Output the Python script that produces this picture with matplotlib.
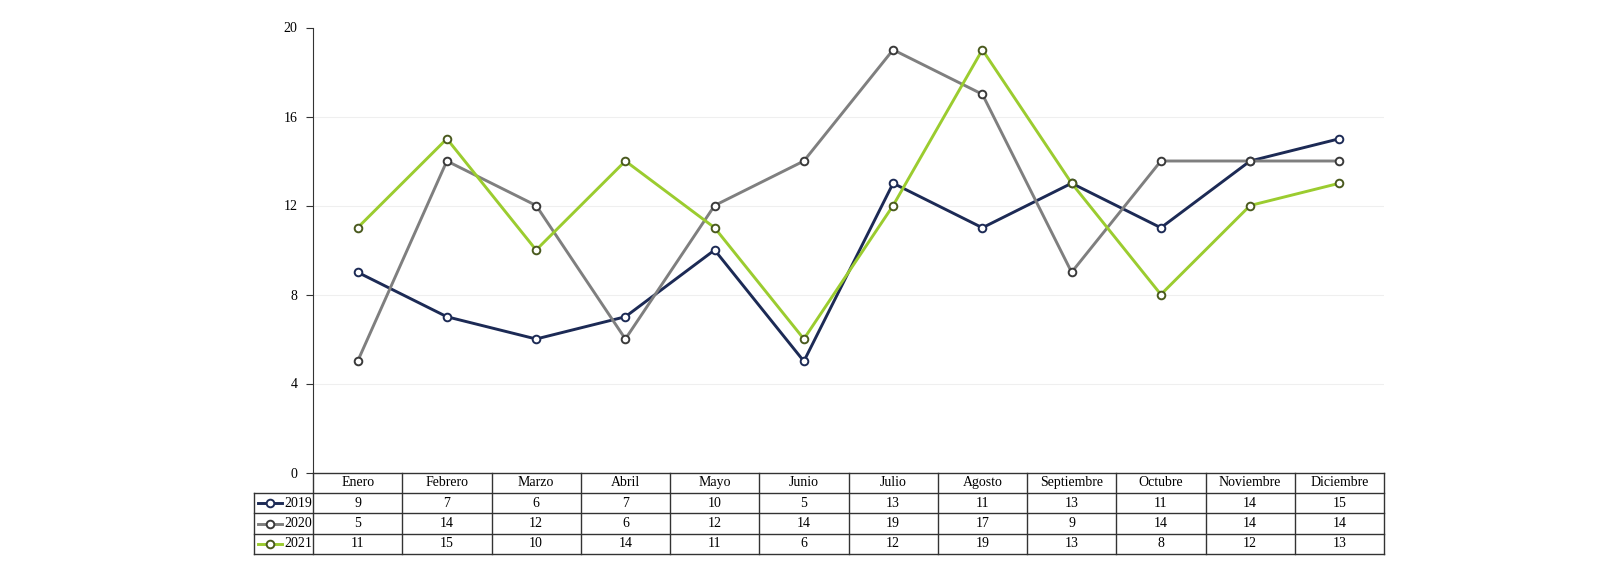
import matplotlib.pyplot as plt
from matplotlib.lines import Line2D

plt.rcParams['font.family'] = ['Liberation Serif', 'DejaVu Serif']

meses = ['Enero', 'Febrero', 'Marzo', 'Abril', 'Mayo', 'Junio', 'Julio',
         'Agosto', 'Septiembre', 'Octubre', 'Noviembre', 'Diciembre']
series = ['2019', '2020', '2021']
v2019 = [9, 7, 6, 7, 10, 5, 13, 11, 13, 11, 14, 15]
v2020 = [5, 14, 12, 6, 12, 14, 19, 17, 9, 14, 14, 14]
v2021 = [11, 15, 10, 14, 11, 6, 12, 19, 13, 8, 12, 13]
yticks = [0, 4, 8, 12, 16, 20]

colores = ['#1c2a55', '#7f7f7f', '#9bcc2f']
bordes = ['#1c2a55', '#3a3a3a', '#4a5a1e']
valores = [v2019, v2020, v2021]

W, H = 1600, 580
fig = plt.figure(figsize=(16, 5.8), dpi=100)

# plot area in pixels
left, right, top, bottom = 313, 1384, 27.5, 472.5
ax = fig.add_axes([left / W, 1 - bottom / H, (right - left) / W, (bottom - top) / H])

x = list(range(len(meses)))
for vals, col, bc in zip(valores, colores, bordes):
    ax.plot(x, vals, color=col, lw=2.1, marker='o', ms=5.5, mfc='white',
            mec=bc, mew=1.4, zorder=3)

ax.set_xlim(-0.5, len(meses) - 0.5)
ax.set_ylim(0, 20)
ax.set_yticks(yticks)
ax.tick_params(axis='y', labelsize=10, length=5, width=0.8, color='#333333', pad=6)
ax.set_xticks([])
for s in ['top', 'right', 'bottom']:
    ax.spines[s].set_visible(False)
ax.spines['left'].set_color('#333333')
ax.spines['left'].set_linewidth(0.8)
for t in yticks[1:-1]:
    ax.axhline(t, color='#efefef', lw=0.8, zorder=0)

# data table below the plot, drawn in pixel coords
tax = fig.add_axes([0, 0, 1, 1])
tax.set_xlim(0, W)
tax.set_ylim(H, 0)
tax.axis('off')

leg_left = 254
row_h = 20.4
n_rows = len(series) + 1
colw = (right - left) / len(meses)
lc = '#333333'

# horizontal lines
for r in range(n_rows + 1):
    y = bottom + r * row_h
    x0 = left if r == 0 else leg_left
    tax.plot([x0, right], [y, y], color=lc, lw=1.0)
# vertical lines
tax.plot([leg_left, leg_left], [bottom + row_h, bottom + n_rows * row_h], color=lc, lw=1.0)
for c in range(len(meses) + 1):
    xx = left + c * colw
    tax.plot([xx, xx], [bottom, bottom + n_rows * row_h], color=lc, lw=1.0)

for c, m in enumerate(meses):
    tax.text(left + (c + 0.5) * colw, bottom + row_h / 2, m, ha='center', va='center', fontsize=10)

for r, (name, vals, col, bc) in enumerate(zip(series, valores, colores, bordes)):
    yc = bottom + (r + 1.5) * row_h
    tax.add_line(Line2D([leg_left + 4, leg_left + 28], [yc, yc], color=col, lw=2.1))
    tax.plot([leg_left + 16], [yc], marker='o', ms=5.5, mfc='white', mec=bc, mew=1.4)
    tax.text(leg_left + 30, yc, name, ha='left', va='center', fontsize=10)
    for c, v in enumerate(vals):
        tax.text(left + (c + 0.5) * colw, yc, str(v), ha='center', va='center', fontsize=10)

fig.savefig('out.png', dpi=100)
